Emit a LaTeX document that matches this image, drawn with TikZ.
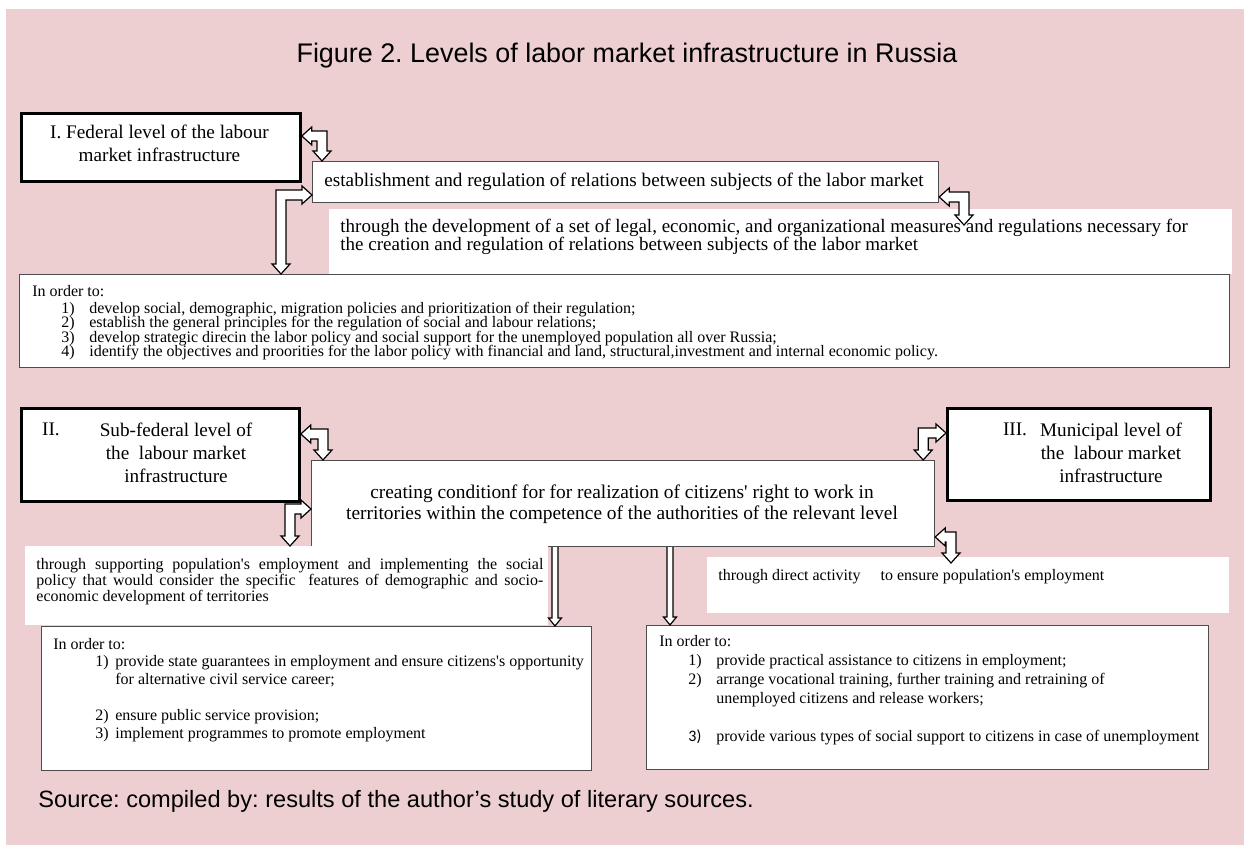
\documentclass[tikz,border=0pt]{standalone}
\usepackage{fontspec}
\setmainfont{Liberation Serif}
\newfontfamily\headfont{Liberation Sans}
\newfontfamily\numfont{Carlito}
\usetikzlibrary{calc}
\definecolor{color_back}{HTML}{EDCFD1}
\definecolor{color_line}{HTML}{4D4D4D}
\lineskiplimit=-10pt
\frenchspacing
\newcommand{\sq}{\textquotesingle}
\newcommand{\listitem}[3]{\hspace*{#1}\makebox[#2][l]{#3}}
% L-shaped hollow arrow: tip on the horizontal leg, tip on the vertical leg
\newcommand{\bentarrow}[2]{%
  \draw[hollow_arrow] let \p1=(#1), \p2=(#2), \n1={sign(\x2-\x1)} in
    (\p1) -- ({\x1+\n1*5pt},{\y1+4.5pt}) -- ({\x1+\n1*5pt},{\y1+2.5pt})
    -- ({\x2+\n1*2.5pt},{\y1+2.5pt}) -- ({\x2+\n1*2.5pt},{\y2+5pt})
    -- ({\x2+\n1*4.5pt},{\y2+5pt}) -- (\p2) -- ({\x2-\n1*4.5pt},{\y2+5pt})
    -- ({\x2-\n1*2.5pt},{\y2+5pt}) -- ({\x2-\n1*2.5pt},{\y1-2.5pt})
    -- ({\x1+\n1*5pt},{\y1-2.5pt}) -- ({\x1+\n1*5pt},{\y1-4.5pt}) -- cycle;
}
\newcommand{\droparrow}[2]{%
  \draw[hollow_arrow] let \p1=(#1), \p2=(#2) in
    ({\x1-1.5pt},{\y1}) -- ({\x1-1.5pt},{\y2+4pt}) -- ({\x1-3.25pt},{\y2+4pt})
    -- ({\x1},{\y2}) -- ({\x1+3.25pt},{\y2+4pt}) -- ({\x1+1.5pt},{\y2+4pt})
    -- ({\x1+1.5pt},{\y1});
}
\tikzset{
  level_box/.style={draw=black, line width=1.4pt, fill=white, inner sep=0pt, anchor=north west},
  plain_box/.style={draw=color_line, line width=0.6pt, fill=white, inner sep=0pt, anchor=north west},
  blank_box/.style={fill=white, inner sep=0pt, anchor=north west},
  level_text/.style={font=\fontsize{9.6}{11.5}\selectfont, align=center, inner sep=0pt},
  main_text/.style={font=\fontsize{9.6}{10.5}\selectfont, inner sep=0pt},
  list_text/.style={font=\fontsize{8}{#1}\selectfont, align=left, inner sep=0pt, anchor=north west},
  head_text/.style={font=\headfont\fontsize{#1}{#1}\selectfont, inner sep=0pt},
  hollow_arrow/.style={draw=black, line width=0.6pt, fill=white, line join=miter},
}
\begin{document}
\begin{tikzpicture}[x=0.5pt, y=-0.5pt]
  \useasboundingbox (0,0) rectangle (1244,845);
  \fill[color_back] (6,9) rectangle (1244,845);
  \node[head_text=13.45] (title) at (627,56) {Figure 2. Levels of labor market infrastructure in Russia};

  % I. federal level
  \node[level_box, minimum width=139.5pt, minimum height=34pt] (federal) at (20,112) {};
  \node[level_text] (federal_txt) at (159.5,143) {I. Federal level of the labour\\market infrastructure};
  \node[plain_box, minimum width=313pt, minimum height=20.5pt] (estab) at (312,161) {};
  \node[main_text, anchor=west] (estab_txt) at (324,181.5)
    {establishment and regulation of relations between subjects of the labor market};
  \node[blank_box, minimum width=451.5pt, minimum height=32.5pt] (tdev) at (329,209) {};
  \node[main_text, font=\fontsize{9.5}{9}\selectfont, align=left, anchor=west] (tdev_txt) at (340,237)
    {through the development of a set of legal, economic, and organizational measures and regulations necessary for\\
     the creation and regulation of relations between subjects of the labor market};
  \node[plain_box, minimum width=605pt, minimum height=46.5pt] (io1) at (19,274) {};
  \node[list_text=7.2] (io1_txt) at (32,285.5) {In order to:\\[1pt]
    \listitem{14.5pt}{14pt}{1)}develop social, demographic, migration policies and prioritization of their regulation;\\
    \listitem{14.5pt}{14pt}{2)}establish the general principles for the regulation of social and labour relations;\\
    \listitem{14.5pt}{14pt}{3)}develop strategic direcin the labor policy and social support for the unemployed population all over Russia;\\
    \listitem{14.5pt}{14pt}{4)}identify the objectives and proorities for the labor policy with financial and land, structural,investment and internal economic policy.};

  % II. and III. levels
  \node[level_box, minimum width=139pt, minimum height=46.5pt] (subfed) at (20,407) {};
  \node[level_text] (subfed_num) at (51,429) {II.};
  \node[level_text] (subfed_txt) at (176,453) {Sub-federal level of\\the\ \ labour market\\infrastructure};
  \node[level_box, minimum width=131.5pt, minimum height=46pt] (municipal) at (946,407) {};
  \node[level_text] (municipal_num) at (1015,429) {III.};
  \node[level_text] (municipal_txt) at (1111,453) {Municipal level of\\the\ \ labour market\\infrastructure};
  \node[plain_box, minimum width=311.5pt, minimum height=43pt] (creating) at (311,460) {};
  \node[level_text, font=\fontsize{9.7}{10.5}\selectfont] (creating_txt) at (622,504)
    {creating conditionf for for realization of citizens\sq{} right to work in\\
     territories within the competence of the authorities of the relevant level};
  \node[blank_box, minimum width=261.5pt, minimum height=39.5pt] (tsupport) at (25,546) {};
  \node[list_text=8, anchor=west, text width=253.5pt, align=justify] (tsupport_txt) at (36,582)
    {through supporting population\sq s employment and implementing the social\linebreak
     policy that would consider the specific\ \ features of demographic and socio-\linebreak
     economic development of territories};
  \node[blank_box, minimum width=261pt, minimum height=28pt] (tdirect) at (707,557) {};
  \node[list_text=8, anchor=west] (tdirect_txt) at (718,577)
    {through direct activity\hspace{8pt} to ensure population\sq s employment};
  \node[plain_box, minimum width=275pt, minimum height=72pt] (io2) at (41,626) {};
  \node[list_text=8.9] (io2_txt) at (53,637.5) {In order to:\\
    \listitem{21pt}{10pt}{1)}provide state guarantees in employment and ensure citizens\sq s opportunity\\
    \listitem{31pt}{0pt}{}for alternative civil service career;\\[8.9pt]
    \listitem{21pt}{10pt}{2)}ensure public service provision;\\
    \listitem{21pt}{10pt}{3)}implement programmes to promote employment};
  \node[plain_box, minimum width=281pt, minimum height=72pt] (io3) at (646,625) {};
  \node[list_text=9.5] (io3_txt) at (659,634.5) {In order to:\\
    \listitem{14.5pt}{14pt}{1)}provide practical assistance to citizens in employment;\\
    \listitem{14.5pt}{14pt}{2)}arrange vocational training, further training and retraining of\\
    \listitem{28.5pt}{0pt}{}unemployed citizens and release workers;\\[9.5pt]
    \listitem{14.5pt}{14pt}{\numfont 3)}provide various types of social support to citizens in case of unemployment};

  \node[head_text=11.8, anchor=west] (source) at (38,801)
    {Source: compiled by: results of the author’s study of literary sources.};

  % connectors
  \coordinate (fed_r) at ([yshift=-12pt]federal.north east);
  \coordinate (estab_t) at ([xshift=5pt]estab.north west);
  \coordinate (estab_l) at ([yshift=-17pt]estab.north west);
  \coordinate (io1_t) at ([xshift=131pt]io1.north west);
  \coordinate (estab_r) at ([yshift=-18pt]estab.north east);
  \coordinate (tdev_t) at ([shift={(317.5pt,-8pt)}]tdev.north west);
  \coordinate (subfed_r) at ([yshift=-13.5pt]subfed.north east);
  \coordinate (creating_tl) at ([xshift=6pt]creating.north west);
  \coordinate (creating_l) at ([yshift=-24.5pt]creating.north west);
  \coordinate (tsupport_t) at ([xshift=132.5pt]tsupport.north west);
  \coordinate (municipal_l) at ([yshift=-13pt]municipal.north west);
  \coordinate (creating_tr) at ([xshift=-6pt]creating.north east);
  \coordinate (creating_r) at ([yshift=-38.5pt]creating.north east);
  \coordinate (tdirect_t) at ([shift={(122pt,-3pt)}]tdirect.north west);
  \coordinate (drop_l) at ([xshift=122pt]creating.south west);
  \coordinate (drop_r) at ([xshift=179.5pt]creating.south west);
  \bentarrow{fed_r}{estab_t}
  \bentarrow{estab_l}{io1_t}
  \bentarrow{estab_r}{tdev_t}
  \bentarrow{subfed_r}{creating_tl}
  \bentarrow{creating_l}{tsupport_t}
  \bentarrow{municipal_l}{creating_tr}
  \bentarrow{creating_r}{tdirect_t}
  \droparrow{drop_l}{drop_l |- io2.north}
  \droparrow{drop_r}{drop_r |- io3.north}
\end{tikzpicture}
\end{document}
